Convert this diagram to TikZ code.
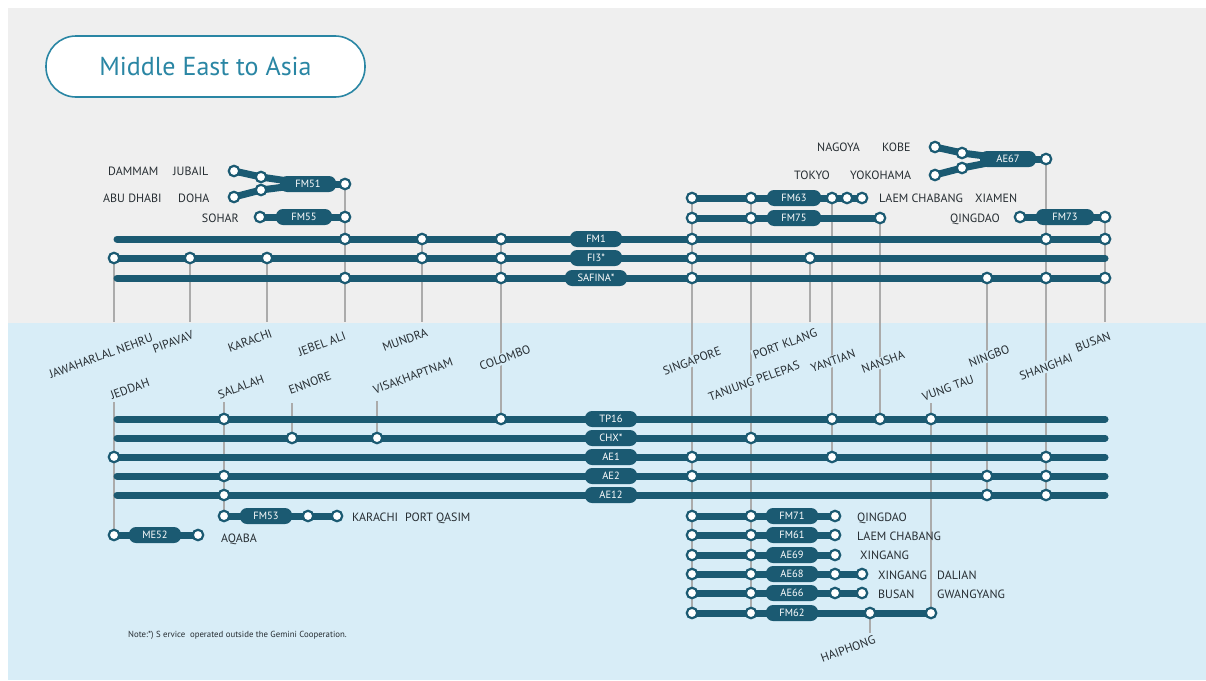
\documentclass[tikz,border=0pt]{standalone}
\usepackage{fontspec}
\setmainfont{PT Sans}
\definecolor{dk}{HTML}{1B5A72}
\definecolor{bggray}{HTML}{EFEFEF}
\definecolor{bgblue}{HTML}{D8EDF7}
\definecolor{vl}{HTML}{ABABAB}
\definecolor{tx}{HTML}{262D32}
\definecolor{ttl}{HTML}{2A86A4}
\pgfdeclarelayer{bg}
\pgfdeclarelayer{mid}
\pgfsetlayers{bg,mid,main}
\begin{document}
\begin{tikzpicture}[x=1pt,y=-1pt,
 st/.style={circle,draw=dk,fill=white,line width=2.2pt,minimum size=10.5pt,inner sep=0pt},
 svc/.style={draw=dk,line width=7pt,line cap=round},
 pill/.style={fill=dk,text=white,rounded corners=7pt,minimum width=52pt,minimum height=16pt,inner sep=0pt,font=\fontsize{10.5}{12}\selectfont,text height=7.5pt,text depth=0pt},
 vln/.style={draw=vl,line width=1.3pt},
 lbl/.style={text=tx,inner sep=0pt,font=\fontsize{12}{14}\selectfont,text height=8.2pt,text depth=0pt},
 rl/.style={lbl,rotate=20,fill=bgblue,inner sep=1.5pt}]
\useasboundingbox (0,0) rectangle (1206,680);

% ---------- title ----------
\node[draw=ttl,line width=1.6pt,fill=white,rounded corners=30pt,minimum width=319pt,minimum height=61pt,inner sep=0pt,text=ttl,font=\fontsize{26}{30}\selectfont] (title) at (205.5,66.5) {Middle East to Asia};

% ---------- upper stations ----------
\node[st] (dam) at (234,171) {};
\node[st] (jub) at (261,177) {};
\node[st] (abu) at (234,197) {};
\node[st] (doh) at (261,190) {};
\node[pill,minimum width=56pt] (fm51) at (308,184) {FM51};
\node[st] (fm51e) at (345,184) {};

\node[st] (soh) at (260,217) {};
\node[pill,minimum width=56pt] (fm55) at (304,217) {FM55};
\node[st] (fm55e) at (345,217) {};

\coordinate (fm1w) at (117,239);
\node[pill] (fm1) at (596,239) {FM1};
\node[st] (a345) at (345,239) {};
\node[st] (a422) at (422,239) {};
\node[st] (a501) at (501,239) {};
\node[st] (a692) at (692,239) {};
\node[st] (a1046) at (1046,239) {};
\node[st] (a1105) at (1105,239) {};

\coordinate (fi3e) at (1105,258);
\node[pill] (fi3) at (596,258) {FI3*};
\node[st] (b114) at (114,258) {};
\node[st] (b190) at (190,258) {};
\node[st] (b267) at (267,258) {};
\node[st] (b422) at (422,258) {};
\node[st] (b501) at (501,258) {};
\node[st] (b692) at (692,258) {};
\node[st] (b810) at (810,258) {};

\coordinate (safw) at (117,278);
\node[pill,minimum width=62pt] (saf) at (596,278) {SAFINA*};
\node[st] (c345) at (345,278) {};
\node[st] (c501) at (501,278) {};
\node[st] (c692) at (692,278) {};
\node[st] (c987) at (987,278) {};
\node[st] (c1046) at (1046,278) {};
\node[st] (c1105) at (1105,278) {};

\node[pill,minimum width=54pt] (fm63) at (794,198) {FM63};
\node[st] (d692) at (692,198) {};
\node[st] (d751) at (751,198) {};
\node[st] (d832) at (832,198) {};
\node[st] (d847) at (847,198) {};
\node[st] (d862) at (862,198) {};

\node[pill,minimum width=54pt] (fm75) at (794,218) {FM75};
\node[st] (e692) at (692,218) {};
\node[st] (e751) at (751,218) {};
\node[st] (e880) at (880,218) {};

\node[pill,minimum width=58pt] (fm73) at (1065,217) {FM73};
\node[st] (f1020) at (1020,217) {};
\node[st] (f1105) at (1105,217) {};

\node[st] (kob) at (935,147) {};
\node[st] (kob2) at (962,153) {};
\node[st] (yok) at (935,175) {};
\node[st] (yok2) at (962,168) {};
\node[pill,minimum width=56pt] (ae67) at (1008,159) {AE67};
\node[st] (g1046) at (1046,159) {};

% ---------- lower stations ----------
\coordinate (tpw) at (117,419); \coordinate (tpe) at (1105,419);
\node[pill] (tp16) at (611,419) {TP16};
\node[st] (t224) at (224,419) {};
\node[st] (t501) at (501,419) {};
\node[st] (t832) at (832,419) {};
\node[st] (t880) at (880,419) {};
\node[st] (t931) at (931,419) {};

\coordinate (chw) at (117,438); \coordinate (che) at (1105,438);
\node[pill] (chx) at (611,438) {CHX*};
\node[st] (h292) at (292,438) {};
\node[st] (h377) at (377,438) {};
\node[st] (h751) at (751,438) {};

\coordinate (ae1e) at (1105,457);
\node[pill] (ae1) at (611,457) {AE1};
\node[st] (i114) at (114,457) {};
\node[st] (i692) at (692,457) {};
\node[st] (i832) at (832,457) {};
\node[st] (i1046) at (1046,457) {};

\coordinate (ae2w) at (117,476); \coordinate (ae2e) at (1105,476);
\node[pill] (ae2) at (611,476) {AE2};
\node[st] (j224) at (224,476) {};
\node[st] (j692) at (692,476) {};
\node[st] (j987) at (987,476) {};
\node[st] (j1046) at (1046,476) {};

\coordinate (ae12w) at (117,495); \coordinate (ae12e) at (1105,495);
\node[pill] (ae12) at (611,495) {AE12};
\node[st] (k224) at (224,495) {};
\node[st] (k987) at (987,495) {};
\node[st] (k1046) at (1046,495) {};

\node[pill] (fm53) at (266,516) {FM53};
\node[st] (l224) at (224,516) {};
\node[st] (l308) at (308,516) {};
\node[st] (l337) at (337,516) {};

\node[pill] (me52) at (155,535) {ME52};
\node[st] (m114) at (114,535) {};
\node[st] (m198) at (198,535) {};

\node[pill] (fm71) at (792,516) {FM71};
\node[st] (n692) at (692,516) {};
\node[st] (n751) at (751,516) {};
\node[st] (n835) at (835,516) {};

\node[pill] (fm61) at (792,535) {FM61};
\node[st] (o692) at (692,535) {};
\node[st] (o751) at (751,535) {};
\node[st] (o835) at (835,535) {};

\node[pill] (ae69) at (792,555) {AE69};
\node[st] (p692) at (692,555) {};
\node[st] (p751) at (751,555) {};
\node[st] (p835) at (835,555) {};

\node[pill] (ae68) at (792,574) {AE68};
\node[st] (q692) at (692,574) {};
\node[st] (q751) at (751,574) {};
\node[st] (q835) at (835,574) {};
\node[st] (q862) at (862,574) {};

\node[pill] (ae66) at (792,593) {AE66};
\node[st] (r692) at (692,593) {};
\node[st] (r751) at (751,593) {};
\node[st] (r835) at (835,593) {};
\node[st] (r862) at (862,593) {};

\node[pill] (fm62) at (792,613) {FM62};
\node[st] (u692) at (692,613) {};
\node[st] (u751) at (751,613) {};
\node[st] (u870) at (870,613) {};
\node[st] (u931) at (931,613) {};

% ---------- rotated port labels ----------
\node[rl] (lJN) at (101,356) {JAWAHARLAL NEHRU};
\node[rl] (lPIP) at (173,342) {PIPAVAV};
\node[rl] (lKAR) at (250,341) {KARACHI};
\node[rl] (lJEB) at (322,344) {JEBEL ALI};
\node[rl] (lMUN) at (405,340) {MUNDRA};
\node[rl] (lCOL) at (505,358) {COLOMBO};
\node[rl] (lSIN) at (692,361) {SINGAPORE};
\node[rl] (lPK) at (785,344) {PORT KLANG};
\node[rl] (lTP) at (754,381) {TANJUNG PELEPAS};
\node[rl] (lYAN) at (833,361) {YANTIAN};
\node[rl] (lNAN) at (883,362) {NANSHA};
\node[rl] (lVT) at (948,388) {VUNG TAU};
\node[rl] (lNIN) at (989,356) {NINGBO};
\node[rl] (lSHA) at (1046,367) {SHANGHAI};
\node[rl] (lBUS) at (1093,342) {BUSAN};
\node[rl] (lJED) at (130,389) {JEDDAH};
\node[rl] (lSAL) at (241,387) {SALALAH};
\node[rl] (lENN) at (310,383) {ENNORE};
\node[rl] (lVIS) at (413,376) {VISAKHAPTNAM};
\node[rl] (lHAI) at (848,649) {HAIPHONG};

% ---------- plain labels ----------
\node[lbl,anchor=west] (tDAM) at (108,171) {DAMMAM};
\node[lbl,anchor=west] (tJUB) at (173,171) {JUBAIL};
\node[lbl,anchor=west] (tABU) at (103,198) {ABU DHABI};
\node[lbl,anchor=west] (tDOH) at (178,198) {DOHA};
\node[lbl,anchor=east] (tSOH) at (239,218) {SOHAR};
\node[lbl,anchor=west] (tNAG) at (817,147) {NAGOYA};
\node[lbl,anchor=west] (tKOB) at (882,147) {KOBE};
\node[lbl,anchor=west] (tTOK) at (794,175) {TOKYO};
\node[lbl,anchor=west] (tYOK) at (850,175) {YOKOHAMA};
\node[lbl,anchor=west] (tLCa) at (879,198) {LAEM CHABANG};
\node[lbl,anchor=west] (tXIA) at (975,198) {XIAMEN};
\node[lbl,anchor=east] (tQINa) at (1000,218) {QINGDAO};
\node[lbl,anchor=west] (tKARb) at (352,517) {KARACHI};
\node[lbl,anchor=west] (tPQ) at (405,517) {PORT QASIM};
\node[lbl,anchor=west] (tAQA) at (221,538) {AQABA};
\node[lbl,anchor=west] (tQINb) at (857,517) {QINGDAO};
\node[lbl,anchor=west] (tLCb) at (857,536) {LAEM CHABANG};
\node[lbl,anchor=west] (tXINa) at (860,555) {XINGANG};
\node[lbl,anchor=west] (tXINb) at (878,575) {XINGANG};
\node[lbl,anchor=west] (tDAL) at (937,575) {DALIAN};
\node[lbl,anchor=west] (tBUS) at (878,594) {BUSAN};
\node[lbl,anchor=west] (tGWA) at (937,594) {GWANGYANG};
\node[anchor=west,inner sep=0pt,text=tx,font=\fontsize{8.8}{10}\selectfont] (note) at (128,635) {Note:*) S ervice\ \ operated outside the Gemini Cooperation.};

% ---------- background + grey connectors ----------
\begin{pgfonlayer}{bg}
\fill[white] (0,0) rectangle (1206,680);
\fill[bggray] (8,8) rectangle (1206,323);
\fill[bgblue] (8,323) rectangle (1206,680);
\coordinate (v114) at (114,322);
\coordinate (v190) at (190,322);
\coordinate (v267) at (267,322);
\coordinate (v345) at (345,322);
\coordinate (v422) at (422,322);
\coordinate (v810) at (810,322);
\coordinate (v1105) at (1105,322);
\coordinate (vjed) at (114,402);
\coordinate (vsal) at (224,402);
\coordinate (venn) at (292,403);
\coordinate (vvis) at (377,401);
\coordinate (vvt) at (931,403);
\coordinate (vhai) at (870,633);
\draw[vln] (b114.center) -- (v114);
\draw[vln] (b190.center) -- (v190);
\draw[vln] (b267.center) -- (v267);
\draw[vln] (fm51e.center) -- (v345);
\draw[vln] (a422.center) -- (v422);
\draw[vln] (a501.center) -- (t501.center);
\draw[vln] (d692.center) -- (u692.center);
\draw[vln] (d751.center) -- (u751.center);
\draw[vln] (b810.center) -- (v810);
\draw[vln] (d832.center) -- (i832.center);
\draw[vln] (e880.center) -- (t880.center);
\draw[vln] (c987.center) -- (k987.center);
\draw[vln] (g1046.center) -- (k1046.center);
\draw[vln] (f1105.center) -- (v1105);
\draw[vln] (vjed) -- (m114.center);
\draw[vln] (vsal) -- (l224.center);
\draw[vln] (venn) -- (h292.center);
\draw[vln] (vvis) -- (h377.center);
\draw[vln] (vvt) -- (u931.center);
\draw[vln] (u870.center) -- (vhai);
\end{pgfonlayer}

% ---------- service lines ----------
\begin{pgfonlayer}{mid}
\draw[svc] (dam.center) -- (jub.center) -- (fm51.center);
\draw[svc] (abu.center) -- (doh.center) -- (fm51.center);
\draw[svc] (fm51.center) -- (fm51e.center);
\draw[svc] (soh.center) -- (fm55e.center);
\draw[svc] (fm1w) -- (a1105.center);
\draw[svc] (b114.center) -- (fi3e);
\draw[svc] (safw) -- (c1105.center);
\draw[svc] (d692.center) -- (d862.center);
\draw[svc] (e692.center) -- (e880.center);
\draw[svc] (f1020.center) -- (f1105.center);
\draw[svc] (kob.center) -- (kob2.center) -- (ae67.center);
\draw[svc] (yok.center) -- (yok2.center) -- (ae67.center);
\draw[svc] (ae67.center) -- (g1046.center);
\draw[svc] (tpw) -- (tpe);
\draw[svc] (chw) -- (che);
\draw[svc] (i114.center) -- (ae1e);
\draw[svc] (ae2w) -- (ae2e);
\draw[svc] (ae12w) -- (ae12e);
\draw[svc] (l224.center) -- (l337.center);
\draw[svc] (m114.center) -- (m198.center);
\draw[svc] (n692.center) -- (n835.center);
\draw[svc] (o692.center) -- (o835.center);
\draw[svc] (p692.center) -- (p835.center);
\draw[svc] (q692.center) -- (q862.center);
\draw[svc] (r692.center) -- (r862.center);
\draw[svc] (u692.center) -- (u931.center);
\end{pgfonlayer}
\end{tikzpicture}
\end{document}
